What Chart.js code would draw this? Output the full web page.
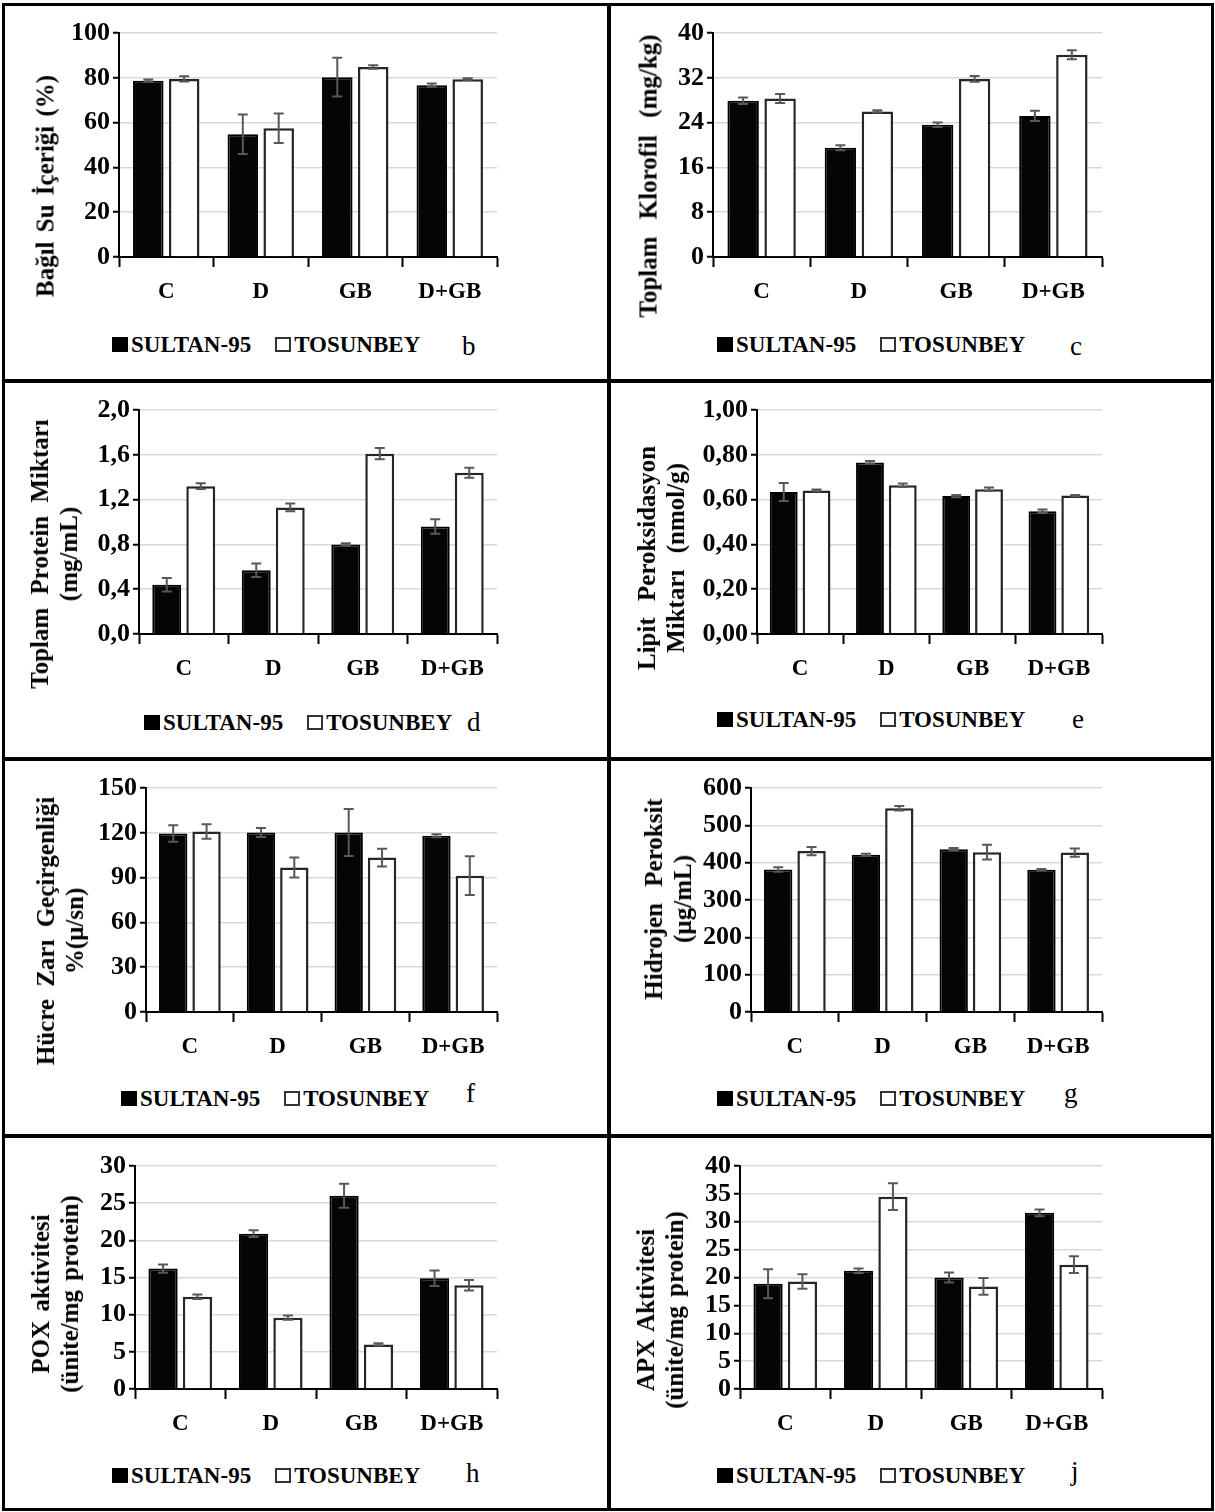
<!DOCTYPE html>
<html><head><meta charset="utf-8">
<script src="https://cdn.jsdelivr.net/npm/chart.js@4.4.0/dist/chart.umd.min.js"></script>
<style>
html,body{margin:0;padding:0;background:#fff;}
#page{position:relative;width:1215px;height:1512px;overflow:hidden;font-family:'Liberation Serif','Times New Roman',serif;color:#000;}
.rule{position:absolute;background:#000;}
.cv{position:absolute;}
.ytitle{position:absolute;transform:translate(-50%,-50%) rotate(-90deg);white-space:nowrap;text-align:center;font-weight:bold;font-size:25px;line-height:29px;word-spacing:3px;}
.legend{position:absolute;display:flex;align-items:center;height:23px;font-weight:bold;font-size:23px;line-height:23px;white-space:nowrap;}
.sq{width:12px;height:11px;border:2px solid #000;margin-right:3px;}
.sq.dark{background:#000;}
.sq.light{background:#fff;border-color:#333;}
.gap{width:24px;}
.letter{position:absolute;font-size:27px;line-height:27px;white-space:nowrap;}
</style>
</head><body>
<div id="page"></div>
<script>
// ---------- data ----------
const categories = ['C', 'D', 'GB', 'D+GB'];
const seriesNames = ['SULTAN-95', 'TOSUNBEY'];

// b: Bağıl Su İçeriği (%)
const rwcSultan = [78.7, 54.8, 80.3, 76.7];
const rwcSultanErr = [0.5, 8.8, 8.6, 0.7];
const rwcTosun = [79.5, 57.5, 84.8, 79.4];
const rwcTosunErr = [1.2, 6.6, 0.8, 0.4];
const rwcTicks = ['0', '20', '40', '60', '80', '100'];

// c: Toplam Klorofil (mg/kg)
const chlSultan = [27.9, 19.5, 23.6, 25.2];
const chlSultanErr = [0.6, 0.45, 0.4, 0.9];
const chlTosun = [28.3, 26.0, 31.8, 36.1];
const chlTosunErr = [0.8, 0.2, 0.5, 0.8];
const chlTicks = ['0', '8', '16', '24', '32', '40'];

// d: Toplam Protein Miktarı (mg/mL)
const protSultan = [0.44, 0.57, 0.80, 0.96];
const protSultanErr = [0.06, 0.06, 0.01, 0.065];
const protTosun = [1.32, 1.13, 1.61, 1.44];
const protTosunErr = [0.025, 0.035, 0.05, 0.045];
const protTicks = ['0,0', '0,4', '0,8', '1,2', '1,6', '2,0'];

// e: Lipit Peroksidasyon Miktarı (nmol/g)
const lipSultan = [0.634, 0.766, 0.616, 0.548];
const lipSultanErr = [0.04, 0.006, 0.005, 0.008];
const lipTosun = [0.641, 0.664, 0.646, 0.618];
const lipTosunErr = [0.004, 0.008, 0.008, 0.003];
const lipTicks = ['0,00', '0,20', '0,40', '0,60', '0,80', '1,00'];

// f: Hücre Zarı Geçirgenliği %(µ/sn)
const memSultan = [119.5, 120.2, 120.2, 118.0];
const memSultanErr = [5.5, 3.0, 15.7, 1.0];
const memTosun = [120.9, 96.7, 103.4, 91.3];
const memTosunErr = [4.9, 6.7, 6.0, 13.0];
const memTicks = ['0', '30', '60', '90', '120', '150'];

// g: Hidrojen Peroksit (µg/mL)
const h2o2Sultan = [382, 421, 436, 381];
const h2o2SultanErr = [6, 3, 3, 2];
const h2o2Tosun = [431, 546, 428, 427];
const h2o2TosunErr = [11, 6, 19.7, 11];
const h2o2Ticks = ['0', '100', '200', '300', '400', '500', '600'];

// h: POX aktivitesi (ünite/mg protein)
const poxSultan = [16.2, 20.9, 26.0, 14.9];
const poxSultanErr = [0.56, 0.45, 1.6, 1.05];
const poxTosun = [12.4, 9.6, 6.0, 13.95];
const poxTosunErr = [0.3, 0.3, 0.15, 0.7];
const poxTicks = ['0', '5', '10', '15', '20', '25', '30'];

// j: APX Aktivitesi (ünite/mg protein)
const apxSultan = [18.9, 21.2, 20.0, 31.6];
const apxSultanErr = [2.6, 0.4, 0.9, 0.6];
const apxTosun = [19.3, 34.5, 18.4, 22.3];
const apxTosunErr = [1.3, 2.4, 1.5, 1.5];
const apxTicks = ['0', '5', '10', '15', '20', '25', '30', '35', '40'];

// ---------- layout ----------
const FONT = "'Liberation Serif', 'Times New Roman', serif";
const panels = [
  {letter:'b', title:['Bağıl Su İçeriği (%)'], s:rwcSultan, se:rwcSultanErr, t:rwcTosun, te:rwcTosunErr, ticks:rwcTicks, max:100, step:20,
   px:0, py:0, axL:119, axT:33, axR:497, axB:257, tx:45, ty:186, lx:112, lb:352, kx:462, kb:355},
  {letter:'c', title:['Toplam Klorofil (mg/kg)'], s:chlSultan, se:chlSultanErr, t:chlTosun, te:chlTosunErr, ticks:chlTicks, max:40, step:8,
   px:607, py:0, axL:713, axT:33, axR:1102, axB:257, tx:648, ty:176, lx:717, lb:352, kx:1070, kb:355, ws:11},
  {letter:'d', title:['Toplam Protein Miktarı', '(mg/mL)'], s:protSultan, se:protSultanErr, t:protTosun, te:protTosunErr, ticks:protTicks, max:2, step:0.4,
   px:0, py:380, axL:139, axT:410, axR:497, axB:634, tx:54, ty:554, lx:144, lb:730, kx:467, kb:731, ws:7},
  {letter:'e', title:['Lipit Peroksidasyon', 'Miktarı (nmol/g)'], s:lipSultan, se:lipSultanErr, t:lipTosun, te:lipTosunErr, ticks:lipTicks, max:1, step:0.2,
   px:607, py:380, axL:757, axT:410, axR:1102, axB:634, tx:661, ty:558, lx:717, lb:727, kx:1072, kb:728, ws:10},
  {letter:'f', title:['Hücre Zarı Geçirgenliği', '%(µ/sn)'], s:memSultan, se:memSultanErr, t:memTosun, te:memTosunErr, ticks:memTicks, max:150, step:30,
   px:0, py:758, axL:146, axT:788, axR:497, axB:1012, tx:60, ty:931, lx:121, lb:1106, kx:466, kb:1102, ws:6},
  {letter:'g', title:['Hidrojen Peroksit', '(µg/mL)'], s:h2o2Sultan, se:h2o2SultanErr, t:h2o2Tosun, te:h2o2TosunErr, ticks:h2o2Ticks, max:600, step:100,
   px:607, py:758, axL:751, axT:788, axR:1102, axB:1012, tx:668, ty:899, lx:717, lb:1106, kx:1064, kb:1102, ws:10},
  {letter:'h', title:['POX aktivitesi', '(ünite/mg protein)'], s:poxSultan, se:poxSultanErr, t:poxTosun, te:poxTosunErr, ticks:poxTicks, max:30, step:5,
   px:0, py:1135, axL:135, axT:1166, axR:497, axB:1389, tx:55, ty:1294, lx:112, lb:1483, kx:466, kb:1482},
  {letter:'j', title:['APX Aktivitesi', '(ünite/mg protein)'], s:apxSultan, se:apxSultanErr, t:apxTosun, te:apxTosunErr, ticks:apxTicks, max:40, step:5,
   px:607, py:1135, axL:740, axT:1166, axR:1102, axB:1389, tx:660, ty:1310, lx:717, lb:1483, kx:1071, kb:1480}
];

const page = document.getElementById('page');
function rule(x, y, w, h) {
  const d = document.createElement('div');
  d.className = 'rule';
  Object.assign(d.style, {left:x+'px', top:y+'px', width:w+'px', height:h+'px'});
  page.appendChild(d);
}
// frame
rule(2, 3, 1212, 3);
rule(2, 1508, 1212, 3);
rule(2, 3, 3, 1508);
rule(1211, 3, 3, 1508);
rule(607, 3, 4, 1508);
rule(2, 379, 1212, 4);
rule(2, 757, 1212, 4);
rule(2, 1134, 1212, 4);

const errorBarPlugin = {
  id: 'errorBars',
  afterDatasetsDraw(chart) {
    const ctx = chart.ctx, y = chart.scales.y;
    chart.data.datasets.forEach((ds, di) => {
      const meta = chart.getDatasetMeta(di);
      meta.data.forEach((bar, i) => {
        const v = ds.data[i], e = ds.errors[i];
        const y1 = y.getPixelForValue(v + e), y2 = y.getPixelForValue(v - e);
        const cap = 5;
        ctx.save();
        ctx.strokeStyle = '#585858';
        ctx.lineWidth = 2;
        ctx.beginPath();
        ctx.moveTo(bar.x, y1); ctx.lineTo(bar.x, y2);
        ctx.moveTo(bar.x - cap, y1); ctx.lineTo(bar.x + cap, y1);
        ctx.moveTo(bar.x - cap, y2); ctx.lineTo(bar.x + cap, y2);
        ctx.stroke();
        ctx.restore();
      });
    });
  }
};

panels.forEach(p => {
  const cw = p.axR - p.px + 10, ch = p.axB - p.py + 50;
  const cv = document.createElement('canvas');
  cv.className = 'cv';
  cv.width = cw; cv.height = ch;
  cv.style.left = p.px + 'px'; cv.style.top = p.py + 'px';
  cv.style.width = cw + 'px'; cv.style.height = ch + 'px';
  page.appendChild(cv);
  const yW = p.axL - p.px;
  new Chart(cv.getContext('2d'), {
    type: 'bar',
    data: {
      labels: categories,
      datasets: [
        {label: seriesNames[0], data: p.s, errors: p.se, backgroundColor: '#050505', borderColor: '#000', borderWidth: 2,
         categoryPercentage: 0.76, barPercentage: 0.85},
        {label: seriesNames[1], data: p.t, errors: p.te, backgroundColor: '#fff', borderColor: '#262626', borderWidth: 2.5,
         categoryPercentage: 0.76, barPercentage: 0.85}
      ]
    },
    options: {
      responsive: false, animation: false, devicePixelRatio: 1,
      layout: {padding: {left: 0, top: p.axT - p.py, right: 10, bottom: 0}},
      plugins: {legend: {display: false}, tooltip: {enabled: false}},
      scales: {
        x: {
          grid: {display: true, drawOnChartArea: false, offset: true, tickLength: 10, tickColor: '#000', tickWidth: 2, color: '#000'},
          border: {color: '#000', width: 2},
          ticks: {color: '#000', font: {family: FONT, size: 23, weight: 'bold'}, padding: 11, maxRotation: 0, autoSkip: false},
          afterFit: s => { s.height = 50; }
        },
        y: {
          min: 0, max: p.max,
          ticks: {stepSize: p.step, color: '#000', font: {family: FONT, size: 26, weight: 'bold'}, padding: 3, autoSkip: false,
                  callback: (v, i) => p.ticks[i]},
          grid: {color: c => (c.tick && c.tick.value === 0) ? 'rgba(0,0,0,0)' : '#d9d9d9', lineWidth: 1.5, tickColor: '#000', tickLength: 6, tickWidth: 2},
          border: {color: '#000', width: 2},
          afterFit: s => { s.width = yW; }
        }
      }
    },
    plugins: [errorBarPlugin]
  });

  const t = document.createElement('div');
  t.className = 'ytitle';
  t.style.left = p.tx + 'px'; t.style.top = p.ty + 'px';
  if (p.ws) t.style.wordSpacing = p.ws + 'px';
  p.title.forEach((line, i) => {
    if (i) t.appendChild(document.createElement('br'));
    t.appendChild(document.createTextNode(line));
  });
  page.appendChild(t);

  const lg = document.createElement('div');
  lg.className = 'legend';
  lg.style.left = p.lx + 'px';
  lg.style.top = (p.lb - 19) + 'px';
  lg.innerHTML = '<div class="sq dark"></div><span>' + seriesNames[0] + '</span><div class="gap"></div>' +
                 '<div class="sq light"></div><span>' + seriesNames[1] + '</span>';
  page.appendChild(lg);

  const k = document.createElement('div');
  k.className = 'letter';
  k.style.left = p.kx + 'px';
  k.style.top = (p.kb - 22) + 'px';
  k.textContent = p.letter;
  page.appendChild(k);
});
</script>
</body></html>
